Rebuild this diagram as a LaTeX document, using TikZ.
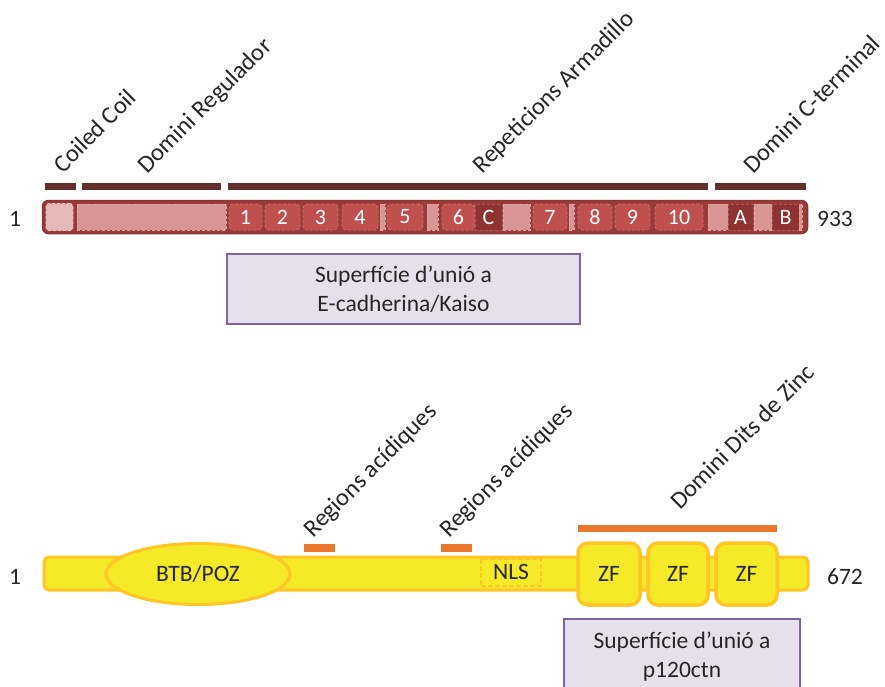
\documentclass[tikz,border=0pt]{standalone}
\usepackage{fontspec}
\setmainfont{Carlito}
\usetikzlibrary{shapes.geometric}
\definecolor{txt}{HTML}{262626}
\definecolor{barbg}{HTML}{983B39}
\definecolor{barline}{HTML}{8C3432}
\definecolor{darkseg}{HTML}{8E3331}
\definecolor{repfill}{HTML}{C0504D}
\definecolor{lightfill}{HTML}{D99694}
\definecolor{ccfill}{HTML}{E6B9B8}
\definecolor{brownbar}{HTML}{632F2C}
\definecolor{yel}{HTML}{F4EA27}
\definecolor{yelline}{HTML}{FFC425}
\definecolor{orng}{HTML}{E8762D}
\definecolor{purfill}{HTML}{E6E0EC}
\definecolor{purline}{HTML}{8064A2}
\begin{document}
\begin{tikzpicture}[x=1pt,y=-1pt,
  every node/.style={inner sep=0pt,outer sep=0pt},
  big/.style={font=\fontsize{23.5}{29}\selectfont,text=txt},
  rotlbl/.style={font=\fontsize{24.5}{29}\selectfont,text=txt,rotate=45,anchor=base west},
  seg/.style={rectangle,draw=#1,dashed,dash pattern=on 3pt off 2pt,line width=0.8pt,minimum height=26pt},
  rep/.style={seg=repfill!80!white,fill=repfill,rounded corners=4pt,text=white,font=\fontsize{22}{26}\selectfont},
  lite/.style={seg=lightfill!85!white,fill=lightfill},
  drk/.style={seg=darkseg!80!white,fill=darkseg,text=white,font=\fontsize{22}{26}\selectfont},
  dbar/.style={rectangle,fill=brownbar,minimum height=7pt},
  obar/.style={rectangle,fill=orng,minimum height=7.5pt},
  zf/.style={rectangle,rounded corners=10pt,fill=yel,draw=yelline,line width=3.5pt,minimum height=62pt,big},
  pbox/.style={rectangle,fill=purfill,draw=purline,line width=2.5pt,big,align=center}
]
\useasboundingbox (0,0) rectangle (885,686);
\clip (0,0) rectangle (885,686);
\fill[white] (0,0) rectangle (885,686);

% ---------- top protein (p120ctn) ----------
\node[rectangle,rounded corners=6pt,fill=barbg,draw=barline,line width=1.5pt,
      minimum width=765pt,minimum height=33pt] (ctn) at (425,217) {};
\node[seg=ccfill!80!white,fill=ccfill,rounded corners=3pt,minimum width=27pt,minimum height=27pt] (cc) at (59.5,217) {};
\node[lite,minimum width=149pt] (reg) at (151.5,217) {};
\node[rep,minimum width=33pt] (r1) at (245.5,217) {1};
\node[rep,minimum width=35pt] (r2) at (282.5,217) {2};
\node[rep,minimum width=35pt] (r3) at (320.5,217) {3};
\node[rep,minimum width=36pt] (r4) at (360,217) {4};
\node[lite,minimum width=5pt] (l1) at (382.5,217) {};
\node[rep,minimum width=36pt] (r5) at (405,217) {5};
\node[lite,minimum width=11pt] (l2) at (432.5,217) {};
\node[rep,minimum width=33pt] (r6) at (458.5,217) {6};
\node[drk,minimum width=27pt] (rc) at (488.5,217) {C};
\node[lite,minimum width=27pt] (l3) at (516.5,217) {};
\node[rep,minimum width=34pt] (r7) at (550,217) {7};
\node[lite,minimum width=5pt] (l4) at (571.5,217) {};
\node[rep,minimum width=34pt] (r8) at (595,217) {8};
\node[rep,minimum width=35pt] (r9) at (632.5,217) {9};
\node[rep,minimum width=48pt] (r10) at (679,217) {10};
\node[lite,minimum width=20pt] (l5) at (718,217) {};
\node[drk,minimum width=25pt] (ra) at (740.5,217) {A};
\node[lite,minimum width=18pt] (l6) at (763,217) {};
\node[drk,minimum width=27pt] (rb) at (785.5,217) {B};
\node[lite,minimum width=3pt] (l7) at (800.5,217) {};

\node[big] (n1a) at (15,219) {1};
\node[big] (n933) at (835,219) {933};

% domain bars
\node[dbar,minimum width=31pt] (bcc) at (60.5,186.5) {};
\node[dbar,minimum width=139pt] (breg) at (151.5,186.5) {};
\node[dbar,minimum width=480pt] (barm) at (468,186.5) {};
\node[dbar,minimum width=91pt] (bct) at (760.5,186.5) {};

\node[rotlbl] (tcc) at (63,174) {Coiled Coil};
\node[rotlbl] (treg) at (147,174) {Domini Regulador};
\node[rotlbl] (tarm) at (482,174) {Repeticions Armadillo};
\node[rotlbl] (tct) at (753,174) {Domini C-terminal};

\node[pbox,minimum width=353pt,minimum height=70pt] (ecad) at (403.5,289)
  {Superfície d’unió a\\E-cadherina/Kaiso};

% ---------- bottom protein (Kaiso) ----------
\node[rectangle,rounded corners=5pt,fill=yel,draw=yelline,line width=3pt,
      minimum width=764pt,minimum height=33pt] (kaiso) at (426,573.5) {};
\node[ellipse,fill=yel,draw=yelline,line width=3pt,minimum width=184pt,minimum height=61pt,big] (btb) at (198,574) {BTB/POZ};
\node[rectangle,fill=yel,draw=yelline,dashed,dash pattern=on 5pt off 2pt,line width=2pt,
      minimum width=60pt,minimum height=27pt,big] (nls) at (511,572) {NLS};
\node[zf,minimum width=62pt] (zf1) at (609,574) {ZF};
\node[zf,minimum width=60pt] (zf2) at (678,574) {ZF};
\node[zf,minimum width=61pt] (zf3) at (746.5,574) {ZF};

\node[big] (n1b) at (15,577) {1};
\node[big] (n672) at (845,577) {672};

\node[obar,minimum width=31pt] (ac1) at (319.5,548) {};
\node[obar,minimum width=31pt] (ac2) at (456.5,548) {};
\node[obar,minimum width=199pt] (zinc) at (677.5,528.5) {};

\node[rotlbl] (tac1) at (313,538) {Regions acídiques};
\node[rotlbl] (tac2) at (449,538) {Regions acídiques};
\node[rotlbl] (tzinc) at (680,510) {Domini Dits de Zinc};

\node[pbox,minimum width=236pt,minimum height=76pt] (p120) at (682,657)
  {Superfície d’unió a\\p120ctn};
\end{tikzpicture}
\end{document}
